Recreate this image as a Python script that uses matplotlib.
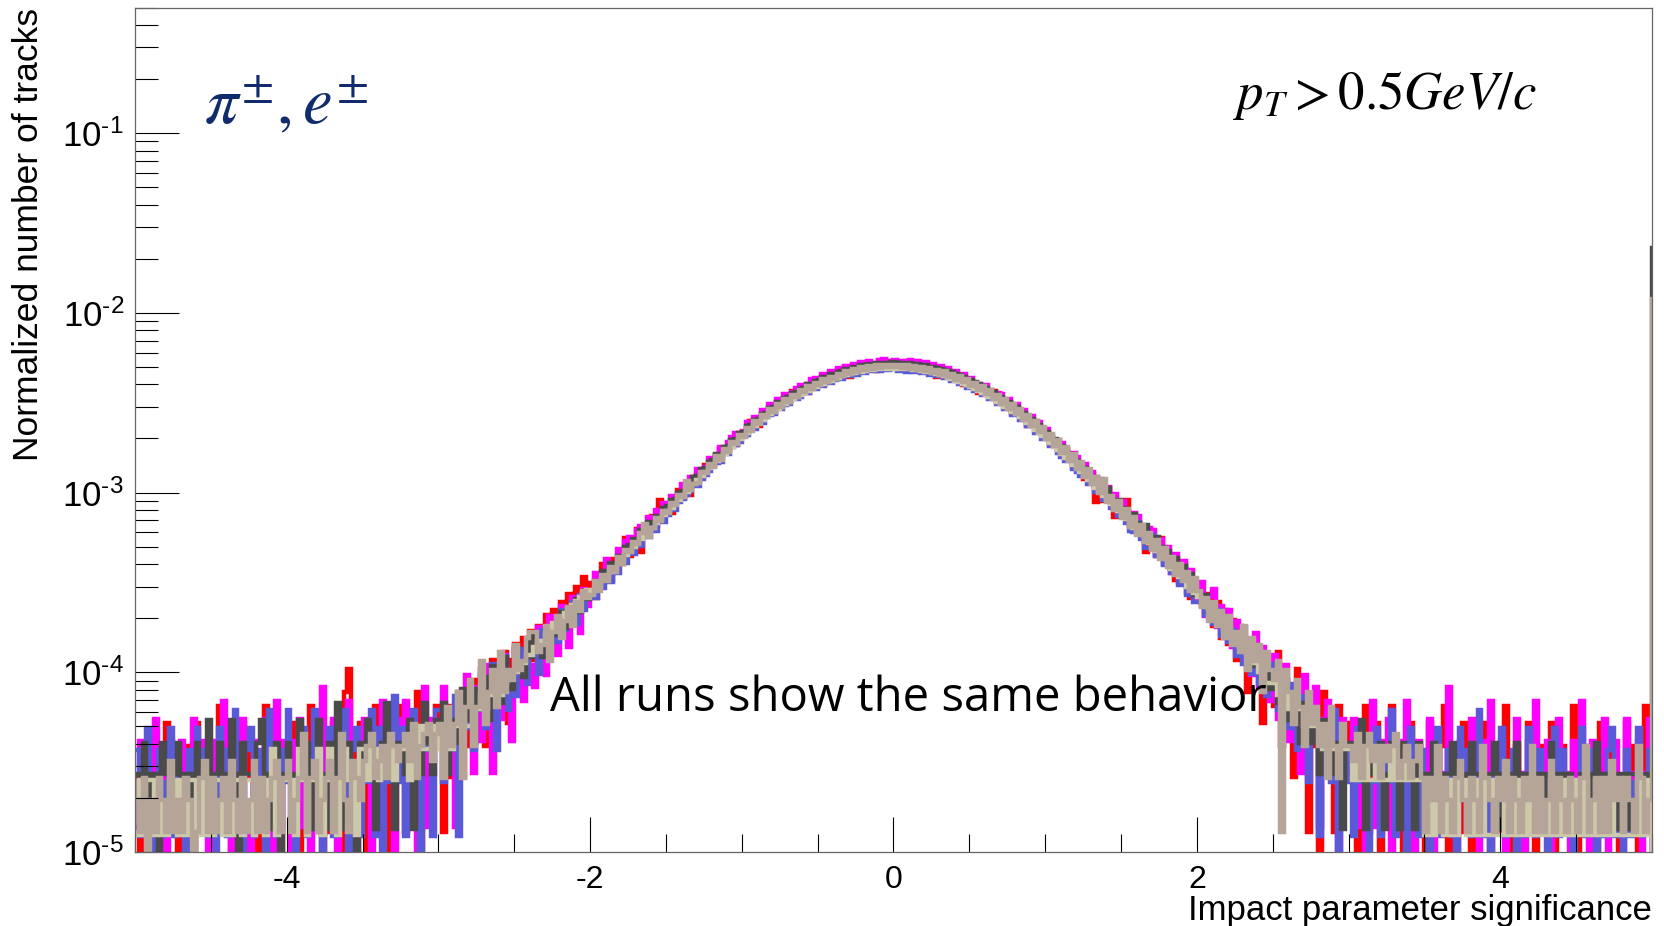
import numpy as np
import matplotlib
matplotlib.use("Agg")
import matplotlib.pyplot as plt
from matplotlib.ticker import MultipleLocator, LogLocator, NullFormatter, FuncFormatter

plt.rcParams['font.family'] = ['Liberation Sans', 'DejaVu Sans']
plt.rcParams['mathtext.fontset'] = 'custom'
plt.rcParams['mathtext.rm'] = 'Liberation Sans'
plt.rcParams['mathtext.it'] = 'Liberation Sans:italic'
plt.rcParams['axes.unicode_minus'] = False

# 400 bins of 0.025 between -5 and 5, plus one overflow bin
x_min, x_max, n_bins = -5.0, 5.0, 400

# track counts per bin, one list per run
red = [
    2, 0, 3, 1, 3, 2, 0, 2, 4, 1,
    3, 0, 2, 1, 3, 0, 4, 2, 1, 3,
    0, 2, 5, 1, 2, 0, 3, 1, 4, 2,
    3, 1, 0, 2, 5, 3, 1, 2, 0, 3,
    2, 4, 1, 0, 3, 2, 5, 1, 2, 0,
    3, 1, 4, 2, 0, 6, 8, 3, 1, 4,
    2, 0, 3, 5, 1, 2, 4, 0, 3, 2,
    5, 1, 3, 2, 6, 0, 4, 2, 3, 5,
    4, 1, 5, 2, 4, 6, 2, 5, 3, 7,
    4, 8, 3, 6, 9, 5, 7, 10, 4, 9,
    11, 6, 12, 8, 13, 9, 14, 10, 16, 12,
    17, 13, 19, 15, 21, 16, 23, 18, 26, 20,
    24, 20, 25, 31, 26, 25, 33, 32, 31, 43,
    34, 42, 48, 36, 48, 48, 57, 50, 70, 57,
    63, 59, 72, 79, 72, 83, 75, 94, 96, 94,
    110, 107, 108, 124, 134, 130, 132, 147, 142, 166,
    167, 167, 193, 183, 180, 210, 210, 225, 214, 247,
    238, 253, 246, 282, 264, 283, 302, 277, 308, 303,
    329, 307, 340, 336, 332, 369, 350, 366, 339, 383,
    384, 362, 384, 403, 378, 365, 416, 387, 404, 380,
    380, 404, 387, 416, 365, 378, 403, 384, 362, 384,
    383, 339, 366, 350, 369, 332, 336, 340, 307, 329,
    303, 308, 277, 302, 283, 264, 282, 246, 253, 238,
    247, 214, 225, 210, 210, 180, 183, 193, 167, 167,
    166, 142, 147, 132, 130, 134, 124, 108, 107, 110,
    91, 97, 98, 68, 85, 69, 82, 75, 56, 63,
    57, 70, 50, 57, 48, 48, 36, 48, 42, 34,
    43, 31, 32, 33, 25, 26, 31, 25, 20, 24,
    24, 18, 16, 21, 14, 19, 12, 17, 11, 15,
    9, 14, 12, 6, 11, 8, 10, 4, 9, 7,
    5, 10, 3, 7, 6, 2, 8, 4, 6, 1,
    5, 3, 0, 6, 2, 4, 1, 5, 3, 2,
    4, 2, 0, 3, 5, 1, 2, 4, 0, 3,
    2, 5, 1, 3, 0, 2, 4, 1, 3, 2,
    0, 4, 2, 1, 3, 5, 0, 2, 3, 1,
    4, 2, 0, 3, 1, 2, 4, 0, 2, 3,
    1, 5, 2, 0, 3, 1, 2, 4, 1, 0,
    3, 2, 1, 4, 0, 2, 3, 1, 2, 5,
    0, 2, 1, 3, 2, 0, 4, 1, 2, 3,
    1, 0, 2, 4, 1, 3, 0, 2, 5, 1,
]
magenta = [
    1, 3, 2, 0, 2, 4, 1, 2, 0, 3,
    2, 1, 3, 2, 0, 4, 2, 1, 3, 0,
    2, 3, 1, 5, 2, 0, 3, 2, 4, 1,
    0, 3, 2, 1, 4, 2, 0, 5, 1, 3,
    2, 0, 3, 4, 1, 2, 0, 3, 2, 6,
    1, 2, 4, 0, 3, 2, 5, 1, 0, 3,
    4, 2, 0, 3, 1, 5, 2, 3, 0, 4,
    2, 5, 1, 3, 0, 2, 6, 1, 4, 3,
    3, 6, 2, 4, 1, 5, 3, 7, 4, 2,
    6, 3, 8, 5, 2, 7, 4, 9, 6, 3,
    10, 7, 5, 11, 8, 6, 13, 9, 7, 15,
    11, 9, 17, 13, 10, 19, 14, 12, 21, 17,
    20, 26, 22, 24, 31, 27, 28, 35, 30, 39,
    41, 37, 45, 47, 43, 53, 48, 58, 54, 63,
    60, 69, 66, 70, 81, 77, 88, 86, 98, 95,
    100, 113, 111, 116, 130, 127, 138, 147, 155, 150,
    160, 178, 174, 192, 188, 208, 204, 225, 219, 240,
    233, 255, 249, 262, 275, 287, 280, 290, 310, 316,
    307, 331, 320, 344, 333, 356, 345, 368, 355, 376,
    362, 386, 375, 392, 377, 380, 398, 399, 383, 390,
    398, 385, 393, 380, 395, 378, 390, 371, 384, 366,
    374, 357, 366, 346, 356, 333, 343, 322, 330, 308,
    316, 295, 290, 287, 288, 264, 260, 258, 255, 232,
    240, 217, 225, 203, 209, 186, 194, 172, 179, 158,
    164, 144, 140, 142, 137, 118, 116, 120, 114, 99,
    104, 88, 94, 79, 86, 71, 78, 64, 71, 58,
    65, 52, 50, 56, 54, 42, 39, 46, 45, 33,
    40, 30, 36, 26, 33, 23, 30, 20, 27, 19,
    18, 23, 15, 19, 21, 13, 17, 12, 16, 10,
    14, 9, 13, 11, 7, 12, 6, 10, 8, 5,
    9, 4, 7, 8, 3, 6, 5, 2, 7, 4,
    3, 6, 1, 4, 5, 2, 3, 0, 4, 2,
    2, 4, 1, 3, 0, 2, 5, 1, 3, 2,
    4, 0, 2, 3, 1, 5, 2, 0, 3, 1,
    2, 4, 0, 3, 1, 2, 6, 1, 0, 3,
    2, 1, 4, 2, 0, 3, 1, 5, 2, 1,
    3, 0, 2, 1, 4, 2, 0, 3, 1, 5,
    2, 1, 3, 0, 2, 4, 1, 2, 0, 3,
    1, 5, 2, 0, 3, 1, 2, 4, 0, 2,
    3, 1, 0, 4, 2, 1, 3, 0, 2, 4,
]
slateblue = [
    3, 1, 2, 4, 0, 2, 3, 1, 2, 4,
    1, 3, 2, 0, 3, 1, 4, 2, 3, 1,
    2, 0, 4, 3, 1, 2, 5, 2, 0, 3,
    4, 1, 2, 3, 0, 5, 2, 1, 3, 2,
    5, 2, 0, 3, 4, 1, 2, 5, 3, 0,
    2, 4, 1, 3, 2, 5, 0, 3, 4, 1,
    3, 2, 5, 1, 4, 0, 3, 2, 6, 2,
    4, 1, 3, 5, 2, 0, 4, 3, 1, 5,
    5, 2, 4, 3, 6, 1, 5, 4, 7, 3,
    5, 8, 4, 6, 9, 3, 7, 10, 5, 8,
    6, 11, 9, 7, 12, 10, 8, 14, 11, 13,
    15, 12, 18, 14, 16, 20, 15, 22, 18, 21,
    23, 21, 26, 24, 29, 26, 32, 29, 36, 33,
    39, 37, 44, 41, 48, 46, 53, 50, 59, 56,
    61, 68, 65, 72, 75, 79, 83, 91, 89, 97,
    102, 107, 117, 118, 121, 135, 133, 146, 149, 155,
    168, 170, 183, 184, 199, 198, 213, 220, 222, 236,
    238, 251, 252, 268, 270, 276, 291, 292, 305, 306,
    320, 318, 334, 333, 344, 351, 350, 363, 361, 372,
    369, 381, 378, 388, 384, 393, 386, 395, 389, 398,
    395, 388, 396, 383, 391, 380, 386, 375, 382, 368,
    372, 361, 364, 351, 354, 338, 341, 326, 327, 312,
    313, 298, 299, 284, 284, 268, 269, 252, 252, 236,
    237, 221, 222, 206, 205, 190, 191, 175, 176, 161,
    162, 148, 155, 135, 128, 122, 130, 110, 106, 100,
    101, 91, 92, 82, 83, 74, 75, 67, 68, 60,
    62, 55, 50, 49, 56, 45, 40, 40, 47, 36,
    38, 32, 34, 29, 31, 25, 28, 22, 25, 20,
    20, 22, 17, 19, 15, 18, 13, 16, 12, 14,
    10, 13, 9, 12, 8, 11, 7, 10, 6, 9,
    8, 5, 7, 6, 4, 7, 3, 6, 5, 2,
    4, 5, 1, 3, 4, 2, 5, 0, 3, 2,
    3, 1, 4, 2, 3, 0, 2, 4, 1, 3,
    2, 5, 1, 2, 3, 0, 4, 2, 1, 3,
    2, 0, 3, 4, 1, 2, 3, 1, 0, 4,
    2, 3, 1, 2, 5, 1, 2, 0, 3, 2,
    4, 1, 2, 3, 0, 2, 1, 4, 2, 1,
    3, 2, 0, 2, 4, 1, 3, 2, 1, 0,
    2, 4, 1, 3, 2, 0, 2, 1, 3, 4,
    1, 2, 0, 3, 1, 2, 4, 1, 2, 3,
]
darkgrey = [
    2, 1, 3, 2, 1, 2, 0, 3, 2, 1,
    2, 3, 1, 2, 2, 0, 3, 1, 2, 4,
    1, 2, 3, 1, 2, 4, 2, 0, 3, 2,
    2, 1, 3, 4, 2, 1, 2, 3, 0, 2,
    3, 2, 1, 4, 2, 3, 1, 2, 4, 2,
    1, 3, 2, 5, 1, 2, 3, 2, 0, 3,
    2, 4, 3, 1, 2, 3, 5, 2, 1, 3,
    3, 2, 4, 1, 3, 2, 5, 3, 2, 4,
    3, 5, 2, 4, 4, 3, 6, 4, 5, 3,
    6, 5, 7, 4, 8, 6, 5, 9, 7, 6,
    10, 8, 7, 11, 9, 12, 10, 9, 13, 11,
    14, 12, 16, 13, 17, 15, 19, 16, 21, 19,
    21, 24, 23, 27, 26, 30, 28, 33, 32, 37,
    38, 41, 40, 46, 45, 51, 50, 55, 55, 61,
    62, 67, 68, 74, 76, 82, 83, 90, 92, 100,
    101, 110, 112, 121, 122, 133, 135, 145, 148, 159,
    161, 174, 176, 188, 191, 203, 206, 219, 221, 235,
    236, 249, 252, 265, 268, 281, 284, 296, 298, 311,
    313, 324, 327, 337, 339, 349, 351, 360, 362, 370,
    371, 378, 379, 385, 386, 389, 389, 392, 392, 393,
    393, 391, 392, 388, 389, 385, 386, 380, 378, 372,
    370, 365, 363, 355, 351, 345, 340, 332, 327, 318,
    313, 305, 299, 290, 284, 274, 268, 258, 251, 242,
    236, 228, 221, 211, 205, 196, 190, 180, 175, 167,
    160, 152, 147, 139, 134, 126, 122, 115, 111, 105,
    101, 95, 85, 90, 83, 72, 79, 70, 62, 67,
    61, 58, 50, 56, 50, 44, 49, 43, 36, 42,
    37, 33, 35, 28, 32, 25, 29, 23, 26, 20,
    21, 18, 20, 16, 17, 14, 16, 13, 14, 12,
    12, 10, 11, 9, 10, 8, 9, 7, 8, 6,
    7, 5, 6, 6, 4, 5, 5, 3, 5, 4,
    3, 4, 2, 4, 3, 2, 3, 3, 1, 3,
    3, 2, 2, 4, 1, 3, 2, 2, 3, 1,
    2, 3, 2, 1, 3, 2, 2, 1, 3, 2,
    1, 2, 3, 2, 1, 2, 2, 3, 1, 2,
    2, 1, 3, 2, 2, 1, 2, 2, 3, 1,
    2, 2, 1, 2, 3, 1, 2, 2, 1, 2,
    2, 1, 2, 3, 1, 2, 1, 2, 2, 1,
    1, 2, 2, 1, 2, 3, 1, 2, 1, 2,
    2, 1, 2, 1, 2, 2, 1, 2, 1, 2,
]
khaki = [
    1, 2, 1, 2, 2, 1, 2, 1, 1, 2,
    2, 1, 2, 1, 2, 2, 1, 2, 1, 2,
    1, 2, 2, 1, 2, 1, 2, 2, 1, 2,
    2, 1, 2, 2, 1, 2, 3, 1, 2, 2,
    2, 2, 1, 3, 2, 1, 2, 2, 3, 1,
    2, 3, 2, 1, 2, 3, 2, 2, 1, 3,
    3, 2, 3, 3, 2, 3, 3, 3, 2, 3,
    3, 3, 2, 3, 3, 4, 3, 3, 3, 4,
    3, 3, 4, 3, 4, 4, 5, 4, 4, 5,
    5, 6, 5, 6, 6, 7, 6, 7, 8, 8,
    8, 9, 9, 10, 10, 11, 12, 12, 13, 14,
    15, 15, 16, 17, 18, 19, 20, 21, 22, 23,
    22, 23, 24, 26, 27, 29, 30, 32, 34, 36,
    38, 40, 42, 44, 47, 49, 51, 54, 57, 60,
    63, 66, 69, 73, 77, 81, 85, 89, 94, 99,
    104, 109, 114, 120, 125, 131, 138, 144, 151, 158,
    165, 172, 179, 187, 194, 202, 210, 218, 225, 233,
    240, 248, 256, 264, 272, 280, 288, 295, 302, 309,
    316, 323, 330, 336, 342, 348, 354, 359, 364, 368,
    373, 377, 380, 384, 386, 388, 389, 391, 392, 392,
    392, 392, 391, 389, 388, 386, 384, 380, 377, 373,
    368, 364, 359, 354, 348, 342, 336, 330, 323, 316,
    309, 302, 295, 288, 280, 272, 264, 256, 248, 240,
    233, 225, 218, 210, 202, 194, 187, 179, 172, 165,
    158, 151, 144, 138, 131, 125, 120, 114, 109, 104,
    99, 94, 89, 85, 81, 77, 73, 69, 66, 63,
    60, 57, 54, 51, 49, 47, 44, 42, 40, 38,
    36, 34, 32, 30, 29, 27, 26, 24, 23, 22,
    21, 20, 19, 18, 17, 16, 15, 14, 14, 13,
    12, 11, 11, 10, 9, 9, 8, 8, 7, 7,
    7, 6, 6, 6, 5, 5, 5, 5, 4, 4,
    4, 4, 4, 3, 3, 3, 3, 3, 3, 3,
    3, 2, 3, 2, 3, 2, 2, 3, 2, 2,
    2, 3, 2, 2, 2, 3, 2, 2, 2, 2,
    1, 2, 1, 2, 2, 1, 2, 1, 1, 2,
    2, 1, 1, 2, 1, 2, 1, 1, 2, 1,
    1, 2, 1, 1, 2, 1, 1, 2, 1, 1,
    2, 1, 1, 2, 1, 1, 2, 1, 1, 2,
    1, 1, 2, 1, 1, 2, 1, 1, 1, 2,
    1, 1, 2, 1, 1, 1, 2, 1, 1, 2,
]
# this run has twice the statistics in the tails, so half counts appear
tan = [
    1.5, 1, 2, 0.5, 1.5, 1, 2, 1.5, 1, 2.5,
    1, 1.5, 1, 2, 1.5, 0.5, 1, 2, 2.5, 1,
    2, 1, 1.5, 2, 1, 2.5, 1.5, 1, 2, 1,
    1.5, 2.5, 1, 2, 1, 1.5, 2, 2.5, 1, 2,
    2.5, 1, 1.5, 2, 3.5, 1, 2, 2.5, 1, 1.5,
    2, 2.5, 1, 2, 3.5, 1.5, 1, 2.5, 2, 1.5,
    2.5, 3, 3.5, 2, 2.5, 3, 2, 3.5, 3, 2.5,
    3, 3.5, 2.5, 4, 2, 3, 3.5, 4, 2.5, 3.5,
    4, 2, 5, 3, 4, 6, 2, 5, 7, 3,
    5, 9, 4, 6, 8, 5, 10, 6, 8, 7,
    11, 8, 9, 12, 13, 13, 10, 11, 14, 9,
    13, 16, 12, 15, 18, 14, 19, 17, 22, 20,
    21, 25, 22, 27, 25, 30, 28, 34, 31, 37,
    36, 41, 40, 46, 52, 44, 49, 56, 54, 61,
    60, 68, 66, 75, 73, 90, 80, 86, 88, 101,
    99, 112, 108, 124, 118, 136, 131, 149, 145, 162,
    158, 177, 171, 193, 186, 209, 203, 225, 217, 241,
    231, 256, 248, 272, 264, 289, 281, 303, 294, 317,
    306, 331, 320, 342, 333, 356, 345, 367, 355, 377,
    362, 386, 371, 392, 377, 397, 380, 399, 385, 398,
    388, 398, 384, 395, 378, 391, 372, 388, 366, 381,
    359, 373, 350, 366, 340, 356, 330, 346, 318, 333,
    303, 317, 289, 303, 275, 288, 258, 272, 242, 256,
    227, 241, 212, 225, 197, 210, 183, 194, 168, 180,
    154, 165, 140, 152, 128, 139, 116, 127, 105, 115,
    95, 105, 86, 95, 77, 92, 69, 74, 62, 70,
    56, 63, 50, 57, 45, 51, 41, 46, 37, 42,
    33, 38, 30, 34, 27, 31, 25, 28, 22, 26,
    22, 18, 20, 15, 19, 14, 17, 12, 16, 11,
    13, 10, 14, 8, 12, 9, 11, 6, 10, 8,
    7, 9, 1, 8, 6, 4, 7, 5, 3, 6,
    4, 5, 3, 4, 2, 5, 3, 2, 4, 3,
    3, 2.5, 3.5, 2, 3, 3.5, 2.5, 3, 2, 3,
    2.5, 3, 3.5, 2, 2.5, 3, 2, 2.5, 3, 2,
    1, 2, 1.5, 3, 1, 2, 1.5, 1, 2, 2.5,
    1.5, 1, 2, 1.5, 1, 3, 2, 1.5, 1, 2,
    1.5, 2.5, 1, 2, 1.5, 1, 2, 1.5, 3, 1,
    2, 1, 1.5, 2.5, 1, 2, 1.5, 1, 2, 1.5,
    1, 2, 3, 1, 1.5, 2, 1, 2, 1, 2.5,
    1.5, 2, 1, 2, 1.5, 1, 3, 2, 1, 1.5,
]

# normalisation of each run: contribution of one track
per_track_red = 1.30e-5
per_track_magenta = 1.38e-5
per_track_slateblue = 1.23e-5
per_track_darkgrey = 1.35e-5
per_track_khaki = 1.25e-5
per_track_tan = 1.29e-5

# overflow bin contents (beyond x = 5)
overflow_darkgrey = 1700
overflow_tan = 920

runs = [
    (red, per_track_red, 0, '#ff0000'),
    (magenta, per_track_magenta, 0, '#ff00ff'),
    (slateblue, per_track_slateblue, 0, '#5a5ad8'),
    (darkgrey, per_track_darkgrey, overflow_darkgrey, '#4a4a4a'),
    (khaki, per_track_khaki, 0, '#cdc8aa'),
    (tan, per_track_tan, overflow_tan, '#b4a598'),
]

edges = np.linspace(x_min, x_max, n_bins + 1)
edges = np.append(edges, x_max + (x_max - x_min) / n_bins)

fig = plt.figure(figsize=(16.64, 9.26), dpi=100)
ax = fig.add_axes([0.0811, 0.0799, 0.9117, 0.912])

for counts, per_track, overflow, color in runs:
    assert len(counts) == n_bins
    values = np.append(np.array(counts, dtype=float), overflow) * per_track
    ax.stairs(values, edges, baseline=None, color=color, lw=3.2)

ax.set_yscale('log', nonpositive='clip')
ax.set_xlim(x_min, x_max)
ax.set_ylim(1e-5, 0.5)


def decade_label(v, pos):
    e = int(round(np.log10(v)))
    return r'$\mathdefault{10^{\text{-}%d}}$' % (-e)


# ROOT-like axes: inward ticks on the left and bottom only
ax.xaxis.set_major_locator(MultipleLocator(2))
ax.xaxis.set_minor_locator(MultipleLocator(0.5))
ax.xaxis.set_major_formatter(FuncFormatter(lambda v, p: '%d' % round(v)))
ax.yaxis.set_major_locator(LogLocator(base=10, numticks=10))
ax.yaxis.set_minor_locator(LogLocator(base=10, subs=np.arange(2, 10), numticks=20))
ax.yaxis.set_major_formatter(FuncFormatter(decade_label))
ax.yaxis.set_minor_formatter(NullFormatter())
ax.tick_params(axis='x', which='major', direction='in', length=25, width=0.8, labelsize=23, pad=9)
ax.tick_params(axis='x', which='minor', direction='in', length=13, width=0.8)
ax.tick_params(axis='y', which='major', direction='in', length=32, width=0.8, labelsize=25, pad=8)
ax.tick_params(axis='y', which='minor', direction='in', length=16.5, width=0.8)
ax.tick_params(top=False, right=False, which='both')
for side in ax.spines.values():
    side.set_color('#666666')
    side.set_linewidth(0.9)

ax.set_xlabel('Impact parameter significance', fontsize=25, loc='right')
ax.xaxis.set_label_coords(1.0, -0.05)
ax.set_ylabel('Normalized number of tracks', fontsize=25.5, loc='top')
ax.yaxis.set_label_coords(-0.059, 0.999)

fig.text(0.1226, 0.885, r'$\pi^{\pm}, e^{\pm}$', fontsize=48, color='#102c6c',
         ha='left', va='center', math_fontfamily='stix')
fig.text(0.741, 0.897, r'$p_T > 0.5GeV/c$', fontsize=38, color='black',
         ha='left', va='center', math_fontfamily='stix')
ax.text(0.1, 7.2e-5, 'All runs show the same behavior', fontsize=34,
        family=['Open Sans', 'DejaVu Sans'], ha='center', va='center')

fig.savefig('out.png', dpi=100)
